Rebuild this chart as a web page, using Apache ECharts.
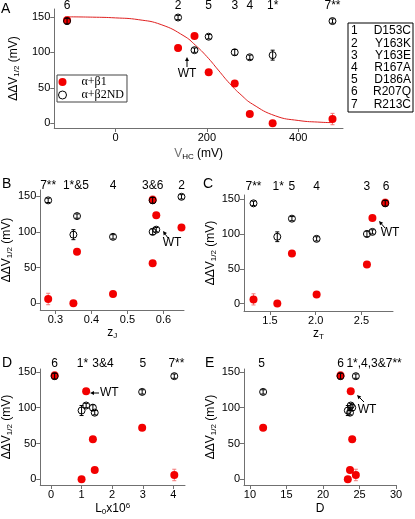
<!DOCTYPE html>
<html><head><meta charset="utf-8">
<script src="https://cdn.jsdelivr.net/npm/echarts@6/dist/echarts.min.js"></script>
<style>html,body{margin:0;padding:0;background:#fff}#c{width:415px;height:519px}</style>
</head><body><div id="c"></div>
<script>
// Mutant order: 1,2,3,4,5,6,7,WT
const mutants = ['1','2','3','4','5','6','7','WT'];
const dV_b1   = [0, 106, 56, 13, 72, 145, 6, 123];
const err_b1  = [2, 4, 2, 2, 2, 5, 8, 2];
const dV_b2ND = [96, 149, 100, 93, 122, 144, 144, 103];
const err_b2ND= [7, 3, 4, 3, 3, 4, 3, 3];
const x_VHC = [344, 137, 261, 294, 204, -106, 475, 173];
const x_zJ  = [0.35, 0.65, 0.57, 0.46, 0.36, 0.57, 0.28, 0.58];
const x_zT  = [1.58, null, 2.56, 2.01, 1.74, 2.76, 1.32, 2.62];
const x_L0  = [1.0, null, 1.37, 1.43, 2.98, 0.12, 4.03, 1.15];
const x_D   = [23.4, null, 24.0, 23.7, 11.8, 22.4, 24.5, 23.8];
// fitted curve in panel A
const fitVHC = [-106, -50, 0, 50, 100, 150, 175, 200, 225, 250, 275, 300, 350, 400, 450, 475];
const fitDV  = [150, 149.5, 148.5, 146, 139, 123, 110, 94, 75, 56, 40, 27, 10.5, 4, 1.5, 1];
// top annotations
const topA = ['6','2','5','3','4','1*','7**'];        const topXA = [-106,137,204,261,294,344,475];
const topB = ['7**','1*&5','4','3&6','2'];            const topXB = [0.28,0.357,0.46,0.57,0.65];
const topC = ['7**','1*','5','4','3','6'];            const topXC = [1.32,1.59,1.74,2.01,2.56,2.77];
const topD = ['6','1*','3&4','5','7**'];              const topXD = [0.12,1.03,1.7,3.0,4.1];
const topE = ['5','6','1*,4,3&7**'];                  const topXE = [11.6,22.4,27.0];
// ticks
const ticksA = [0, 200, 400];
const ticksB = [0.3, 0.4, 0.5, 0.6];
const ticksC = [1.5, 2.0, 2.5];
const ticksD = [0, 1, 2, 3, 4];
const ticksE = [10, 15, 20, 25, 30];
const ticksY = [0, 50, 100, 150];
// mutant table
const tableNums  = ['1','2','3','4','5','6','7'];
const tableNames = ['D153C','Y163K','Y163E','R167A','D186A','R207Q','R213C'];
const seriesNames = ['α+β1', 'α+β2ND'];

const FONT = 'Liberation Sans';
const RED = '#f20000';
const AX = '#707070';

const panels = [
  {grid:{left:40, top:9, width:303, height:119}, xMin:-134, xMax:498, yMin:-6.6, yMax:161,
   xs:x_VHC, ticks:ticksA, fmt:v=>String(v), xName:'V{s|HC}{a| (mV)}', xGap:19, top:topA, topX:topXA, topY:165},
  {grid:{left:40, top:190, width:144, height:120}, xMin:0.258, xMax:0.657, yMin:-9.4, yMax:158.5,
   xs:x_zJ, ticks:ticksB, fmt:v=>v.toFixed(1), xName:'{a|z}{s|J}', xGap:16, top:topB, topX:topXB, topY:164.5},
  {grid:{left:244, top:195, width:149, height:116}, xMin:1.216, xMax:2.845, yMin:-10.7, yMax:156,
   xs:x_zT, ticks:ticksC, fmt:v=>v.toFixed(1), xName:'{a|z}{s|T}', xGap:16, top:topC, topX:topXC, topY:168},
  {grid:{left:40, top:369, width:145, height:116}, xMin:-0.35, xMax:4.38, yMin:-8, yMax:154,
   xs:x_L0, ticks:ticksD, fmt:v=>String(v), xName:'{a|L}{s|0}{a|x10}{p|6}', xGap:17, top:topD, topX:topXD, topY:161},
  {grid:{left:244, top:369, width:152, height:116}, xMin:9.18, xMax:30, yMin:-8, yMax:154,
   xs:x_D, ticks:ticksE, fmt:v=>String(v), xName:'{a|D}', xGap:18, top:topE, topX:topXE, topY:161}
];

const rich = {
  a:{fontSize:12, fontFamily:FONT, color:'#000'},
  s:{fontSize:8, fontFamily:FONT, color:'#000', padding:[6,0,0,0]},
  p:{fontSize:8, fontFamily:FONT, color:'#000', padding:[0,0,6,0]}
};

const grids=[], xAxes=[], yAxes=[], series=[];
panels.forEach((p,i)=>{
  grids.push(p.grid);
  xAxes.push({gridIndex:i, type:'value', min:p.xMin, max:p.xMax,
    axisLine:{show:true, onZero:false, lineStyle:{color:AX, width:1}},
    axisTick:{show:true, length:4, customValues:p.ticks, lineStyle:{color:AX}},
    axisLabel:{customValues:p.ticks, formatter:p.fmt, color:'#000', fontSize:11, fontFamily:FONT, margin:4},
    splitLine:{show:false},
    name:p.xName, nameLocation:'middle', nameGap:p.xGap, nameTextStyle:{rich}});
  yAxes.push({gridIndex:i, type:'value', min:p.yMin, max:p.yMax,
    axisLine:{show:true, onZero:false, lineStyle:{color:AX, width:1}},
    axisTick:{show:true, length:4, customValues:ticksY, lineStyle:{color:AX}},
    axisLabel:{customValues:ticksY, color:'#000', fontSize:11, fontFamily:FONT, margin:4},
    splitLine:{show:false},
    name:'{a|ΔΔV}{s|1/2}{a| (mV)}', nameLocation:'middle', nameGap:26, nameRotate:90, nameTextStyle:{rich}});

  const red=[], blk=[], redE=[], blkE=[];
  p.xs.forEach((x,k)=>{
    if (x===null) return;
    red.push([x, dV_b1[k]]); blk.push([x, dV_b2ND[k]]);
    redE.push([x, dV_b1[k], err_b1[k]]); blkE.push([x, dV_b2ND[k], err_b2ND[k]]);
  });
  const errSeries=(data,color,z)=>({type:'custom', xAxisIndex:i, yAxisIndex:i, data, z, silent:true,
    encode:{x:0,y:1},
    renderItem(params, api){
      const x=api.value(0), y=api.value(1), e=api.value(2);
      const t=api.coord([x,y+e]), b=api.coord([x,y-e]); const w=2;
      const st={stroke:color, lineWidth:1};
      return {type:'group', children:[
        {type:'line', shape:{x1:t[0],y1:t[1],x2:b[0],y2:b[1]}, style:st},
        {type:'line', shape:{x1:t[0]-w,y1:t[1],x2:t[0]+w,y2:t[1]}, style:st},
        {type:'line', shape:{x1:b[0]-w,y1:b[1],x2:b[0]+w,y2:b[1]}, style:st}
      ]};
    }});
  series.push(errSeries(redE, '#f47878', 2));
  series.push({type:'scatter', name:seriesNames[0], xAxisIndex:i, yAxisIndex:i, data:red, symbol:'circle', symbolSize:8,
    itemStyle:{color:RED, opacity:1}, z:3, silent:true});
  series.push({type:'scatter', name:seriesNames[1], xAxisIndex:i, yAxisIndex:i, data:blk, symbol:'circle', symbolSize:7,
    itemStyle:{color:'rgba(255,255,255,0)', borderColor:'#000', borderWidth:1, opacity:1}, z:4, silent:true});
  series.push(errSeries(blkE, '#000', 5));
  series.push({type:'scatter', xAxisIndex:i, yAxisIndex:i, clip:false, silent:true, symbolSize:1,
    itemStyle:{color:'#fff', opacity:1}, z:6,
    data:p.top.map((t,k)=>({name:t, value:[p.topX[k], p.topY]})),
    label:{show:true, position:'inside', formatter:'{b}', color:'#000', opacity:1, fontSize:12, fontFamily:FONT,
      textBorderWidth:0}});
});
series.push({type:'line', xAxisIndex:0, yAxisIndex:0, data:fitVHC.map((x,k)=>[x,fitDV[k]]), smooth:true,
  showSymbol:false, symbol:'none', silent:true, z:1, lineStyle:{color:'#e02020', width:1}});

function arrow(x1,y1,x2,y2){ // arrow pointing to (x2,y2)
  const a=Math.atan2(y2-y1,x2-x1), L=4, W=2;
  const bx=x2-L*Math.cos(a), by=y2-L*Math.sin(a);
  const px=-Math.sin(a)*W, py=Math.cos(a)*W;
  return [
    {type:'line', shape:{x1,y1,x2:bx,y2:by}, style:{stroke:'#000', lineWidth:1}, silent:true},
    {type:'polygon', shape:{points:[[x2,y2],[bx+px,by+py],[bx-px,by-py]]}, style:{fill:'#000'}, silent:true}
  ];
}
const txt=(x,y,s,opt)=>Object.assign({type:'text', x, y, silent:true,
  style:Object.assign({text:s, fill:'#000', font:'12px '+FONT, textAlign:'left', textVerticalAlign:'middle'}, opt||{})});

const graphic=[];
// panel letters
[['A',1,9],['B',2,184],['C',203,184],['D',2,363],['E',205,363]].forEach(([s,x,y])=>graphic.push(txt(x,y,s,{font:'14px '+FONT})));
// WT annotations
graphic.push(txt(187,74,'WT',{textAlign:'center'}), ...arrow(187,67,187,57));
graphic.push(txt(172,243,'WT',{textAlign:'center'}), ...arrow(168,238,163,231));
graphic.push(txt(390,233,'WT',{textAlign:'center'}), ...arrow(385,228,379,221));
graphic.push(txt(100,393,'WT'), ...arrow(99,393,90,393));
graphic.push(txt(367,410,'WT',{textAlign:'center'}), ...arrow(364,402,357,395));
// mutant table
graphic.push({type:'rect', shape:{x:348, y:23, width:65, height:89}, style:{fill:'#fff', stroke:'#000', lineWidth:1}, silent:true});
tableNums.forEach((n,k)=>{
  const y=31+k*12.2;
  graphic.push(txt(351,y,n));
  graphic.push(txt(411,y,tableNames[k],{textAlign:'right'}));
});

const chart = echarts.init(document.getElementById('c'), null, {renderer:'canvas'});
chart.setOption({
  animation:false, backgroundColor:'#fff',
  grid:grids, xAxis:xAxes, yAxis:yAxes, series, graphic,
  legend:{show:true, orient:'vertical', left:57, top:75, padding:[1,3,1,1], itemGap:1, itemWidth:10, itemHeight:8,
    borderColor:'#444', borderWidth:1, selectedMode:false,
    textStyle:{fontFamily:'Liberation Serif', fontSize:12, color:'#000', padding:[0,0,0,9]},
    data:[{name:seriesNames[0], icon:'circle', itemStyle:{color:RED}},
          {name:seriesNames[1], icon:'circle', itemStyle:{color:'#fff', borderColor:'#000', borderWidth:1}}]}
});
</script></body></html>
